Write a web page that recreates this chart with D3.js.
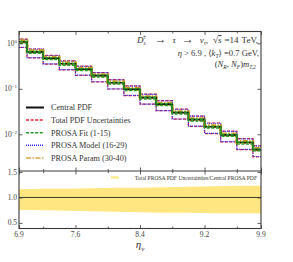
<!DOCTYPE html>
<html><head><meta charset="utf-8">
<script src="https://cdn.jsdelivr.net/npm/d3@7"></script>
<style>
body{margin:0;background:#fff}
text{font-family:"Liberation Serif","DejaVu Serif",serif;}
</style>
</head><body>
<svg id="c" width="293" height="262"></svg>
<script>
// ---------- data ----------
const binEdges = [6.8,7.0,7.2,7.4,7.6,7.8,8.0,8.2,8.4,8.6,8.8,9.0,9.2,9.4,9.6,9.8,10.0];
const central = [1.08,0.65,0.47,0.355,0.27,0.195,0.136,0.098,0.064,0.046,0.030,0.021,0.0147,0.0097,0.0066,0.0046];
const totalUp = [1.24,0.75,0.545,0.41,0.315,0.228,0.16,0.116,0.0762,0.0548,0.0358,0.0252,0.0177,0.0117,0.0080,0.0056];
const totalDn = [0.81,0.48,0.35,0.262,0.198,0.142,0.099,0.071,0.0460,0.0330,0.0215,0.0150,0.0104,0.0068,0.0046,0.0032];
const modelUp = [1.23,0.745,0.54,0.405,0.312,0.226,0.158,0.115,0.0755,0.0543,0.0355,0.025,0.0175,0.0116,0.0079,0.0055];
const modelDn = [0.815,0.485,0.352,0.264,0.2,0.143,0.1,0.0715,0.0463,0.0332,0.0217,0.0151,0.0105,0.0069,0.00465,0.00325];
const fitUp = [1.10,0.665,0.48,0.362,0.276,0.199,0.139,0.1,0.0653,0.047,0.0306,0.0214,0.015,0.0099,0.0067,0.0047];
const fitDn = [1.0,0.605,0.437,0.33,0.251,0.181,0.1265,0.091,0.0595,0.0428,0.0279,0.0195,0.0137,0.009,0.0061,0.0043];
const parUp = [1.145,0.69,0.50,0.376,0.286,0.207,0.144,0.104,0.068,0.0488,0.0318,0.0223,0.0156,0.0103,0.0070,0.0049];
const parDn = [1.07,0.643,0.465,0.351,0.267,0.193,0.1346,0.097,0.0634,0.0455,0.0297,0.0208,0.0146,0.0096,0.00653,0.00455];

const ratioEta = [6.9,7.2,7.5,7.8,8.1,8.4,8.7,9.0,9.3,9.6,9.9];
const ratioUp  = [1.16,1.17,1.17,1.18,1.19,1.19,1.20,1.21,1.22,1.23,1.23];
const ratioDn  = [0.755,0.75,0.74,0.73,0.72,0.71,0.70,0.70,0.69,0.69,0.69];

const xMajor = [6.9,7.6,8.4,9.2,9.9];
const xMinor = [7.2,8.0,8.8,9.6];
const yMain = [1,0.1,0.01];
const yMainExp = ["0","\u22121","\u22122"];
const yRatio = [0.5,1.0,1.5];
const legendLabels = ["Central PDF","Total PDF Uncertainties","PROSA Fit (1-15)","PROSA Model (16-29)","PROSA Param (30-40)"];

// ---------- layout ----------
const L=19,R=261,T=31.5,M=171,B=228.5;
const svg=d3.select("#c");
const x=d3.scaleLinear().domain([6.9,9.9]).range([L,R]);
const y=d3.scaleLog().domain([0.00156,1.82]).range([M,T]);
const yr=d3.scaleLinear().domain([0.39,1.52]).range([B,M]);
const axisCol="#3a3a3a", txtCol="#444";

svg.append("clipPath").attr("id","cp").append("rect").attr("x",L).attr("y",T).attr("width",R-L).attr("height",M-T);
svg.append("clipPath").attr("id","cp2").append("rect").attr("x",L).attr("y",M).attr("width",R-L).attr("height",B-M);

const step = vals => d3.line().curve(d3.curveStepAfter).x(d=>x(d[0])).y(d=>y(d[1]))(
  binEdges.map((e,i)=>[e, vals[Math.min(i, vals.length-1)]]));

const styles = {
  central:{c:"#111",w:1.6,d:null},
  total:{c:"#e8222a",w:1.2,d:"3,1.6"},
  fit:{c:"#22a02a",w:1.3,d:"3,1.6"},
  model:{c:"#2b2bff",w:1.2,d:"1,1"},
  param:{c:"#c9a020",w:2.6,d:"5,1.5,1.5,1.5"}
};
const g=svg.append("g").attr("clip-path","url(#cp)");
const draw=(vals,s)=>g.append("path").attr("d",step(vals)).attr("fill","none")
  .attr("stroke",s.c).attr("stroke-width",s.w).attr("stroke-dasharray",s.d);
draw(totalUp,styles.total); draw(totalDn,styles.total);
draw(modelUp,styles.model); draw(modelDn,styles.model);
draw(parUp,styles.param); draw(parDn,styles.param);
draw(central,styles.central);
draw(fitUp,styles.fit); draw(fitDn,styles.fit);

// ratio panel
const g2=svg.append("g").attr("clip-path","url(#cp2)");
g2.append("path").datum(ratioEta.map((e,i)=>[e,ratioUp[i],ratioDn[i]]))
  .attr("d",d3.area().curve(d3.curveMonotoneX).x(d=>x(d[0])).y0(d=>yr(d[2])).y1(d=>yr(d[1])))
  .attr("fill","#ffe680");
g2.append("line").attr("x1",L).attr("x2",R).attr("y1",yr(1)).attr("y2",yr(1)).attr("stroke","#3a3a2a").attr("stroke-width",1);

// axes (ticks inward)
function ticks(axis,yy,vals,len){
  const a=svg.append("g").attr("transform",yy).call(axis.tickValues(vals).tickSize(len).tickFormat(""));
  a.select(".domain").remove();
  a.selectAll("line").attr("stroke",axisCol).attr("stroke-width",0.8);
}
[[T,M],[M,B]].forEach(([t,b])=>{
  ticks(d3.axisBottom(x),`translate(0,${b})`,xMajor,-3.5);
  ticks(d3.axisBottom(x),`translate(0,${b})`,xMinor,-2);
  ticks(d3.axisTop(x),`translate(0,${t})`,xMajor,-3.5);
  ticks(d3.axisTop(x),`translate(0,${t})`,xMinor,-2);
});
ticks(d3.axisLeft(y),`translate(${L},0)`,yMain,-3.5);
ticks(d3.axisRight(y),`translate(${R},0)`,yMain,-3.5);
ticks(d3.axisLeft(yr),`translate(${L},0)`,yRatio,-3.5);
ticks(d3.axisRight(yr),`translate(${R},0)`,yRatio,-3.5);

// frames
svg.append("rect").attr("x",L).attr("y",T).attr("width",R-L).attr("height",B-T).attr("fill","none").attr("stroke",axisCol).attr("stroke-width",1.1);
svg.append("line").attr("x1",L).attr("x2",R).attr("y1",M).attr("y2",M).attr("stroke",axisCol).attr("stroke-width",1.1);

// tick labels
svg.selectAll(".xl").data(xMajor).enter().append("text").attr("x",d=>x(d)).attr("y",B+8.5)
  .attr("text-anchor","middle").attr("font-size",7.5).attr("fill",txtCol).text(d=>d.toFixed(1));
yMain.forEach((v,i)=>{
  const t=svg.append("text").attr("x",17).attr("y",y(v)+2.5).attr("text-anchor","end").attr("font-size",7.5).attr("fill",txtCol);
  t.append("tspan").text("10");
  t.append("tspan").attr("font-size",5).attr("dy",-3).text(yMainExp[i]);
});
svg.selectAll(".yl").data(yRatio).enter().append("text").attr("x",17).attr("y",d=>yr(d)+2.5)
  .attr("text-anchor","end").attr("font-size",7.5).attr("fill",txtCol).text(d=>d.toFixed(1));

// x label
const xl=svg.append("text").attr("x",x(8.4)).attr("y",248).attr("text-anchor","middle").attr("font-size",11).attr("fill","#333");
xl.append("tspan").attr("font-style","italic").text("\u03b7");
xl.append("tspan").attr("font-style","italic").attr("font-size",7).attr("dy",2.5).text("\u03bd");

// legend
const lg=svg.append("g");
const lkeys=["central","total","fit","model","param"];
lkeys.forEach((k,i)=>{
  const yy=107.5+i*12.6, s=styles[k];
  lg.append("line").attr("x1",26).attr("x2",44).attr("y1",yy).attr("y2",yy).attr("stroke",k==="param"?"#d4a64a":s.c)
    .attr("stroke-width",k==="central"?2:1.5).attr("stroke-dasharray",s.d);
  lg.append("text").attr("x",51).attr("y",yy+2.8).attr("font-size",8.2).attr("fill","#333").text(legendLabels[i]);
});

// ratio legend
svg.append("line").attr("x1",111).attr("x2",119).attr("y1",177.5).attr("y2",177.5).attr("stroke","#ffe680").attr("stroke-width",2);
svg.append("text").attr("x",257).attr("y",179.5).attr("text-anchor","end").attr("font-size",5.6).attr("fill","#333")
  .text("Total PROSA PDF Uncertainties/Central PROSA PDF");

// annotation
const fs=9;
// line 1: D_s^± → τ → ν_τ, √s =14 TeV,
const t1=svg.append("text").attr("x",137).attr("y",43).attr("font-size",fs).attr("fill","#333");
t1.append("tspan").attr("font-style","italic").text("D");
t1.append("tspan").attr("font-size",5.5).attr("font-style","italic").attr("dy",2.2).text("s");
svg.append("text").attr("x",143).attr("y",38.5).attr("font-size",5.5).attr("fill","#333").text("\u00b1");
const t1c=svg.append("text").attr("x",258).attr("y",43).attr("text-anchor","end").attr("font-size",fs).attr("fill","#333");
t1c.append("tspan").attr("font-size",12).text("\u2192");
t1c.append("tspan").attr("font-style","italic").attr("dx",6).text("\u03c4");
t1c.append("tspan").attr("font-size",12).attr("dx",6).text("\u2192");
t1c.append("tspan").attr("font-style","italic").attr("dx",6).text("v");
t1c.append("tspan").attr("font-size",5.5).attr("font-style","italic").attr("dy",2).text("\u03c4");
t1c.append("tspan").attr("dy",-2).text(",");
t1c.append("tspan").attr("dx",5).text("\u221a");
t1c.append("tspan").attr("font-style","italic").attr("text-decoration","overline").text("s");
t1c.append("tspan").attr("dx",3).text("=14");
t1c.append("tspan").attr("dx",3).text("TeV,");

const t2=svg.append("text").attr("x",259).attr("y",55.5).attr("text-anchor","end").attr("font-size",8.6).attr("fill","#333");
t2.append("tspan").attr("font-style","italic").text("\u03b7");
t2.append("tspan").text(" > 6.9 , \u27e8");
t2.append("tspan").attr("font-style","italic").text("k");
t2.append("tspan").attr("font-size",5.5).attr("font-style","italic").attr("dy",2).text("T");
t2.append("tspan").attr("dy",-2).text("\u27e9 =0.7 GeV,");

const t3=svg.append("text").attr("x",256).attr("y",67).attr("text-anchor","end").attr("font-size",8.6).attr("fill","#333");
t3.append("tspan").text("(");
t3.append("tspan").attr("font-style","italic").text("N");
t3.append("tspan").attr("font-size",5.5).attr("font-style","italic").attr("dy",2).text("R");
t3.append("tspan").attr("dy",-2).text(", ");
t3.append("tspan").attr("font-style","italic").text("N");
t3.append("tspan").attr("font-size",5.5).attr("font-style","italic").attr("dy",2).text("F");
t3.append("tspan").attr("dy",-2).text(")");
t3.append("tspan").attr("font-style","italic").text("m");
t3.append("tspan").attr("font-size",5.5).attr("font-style","italic").attr("dy",2).text("T,2");
</script>
</body></html>
